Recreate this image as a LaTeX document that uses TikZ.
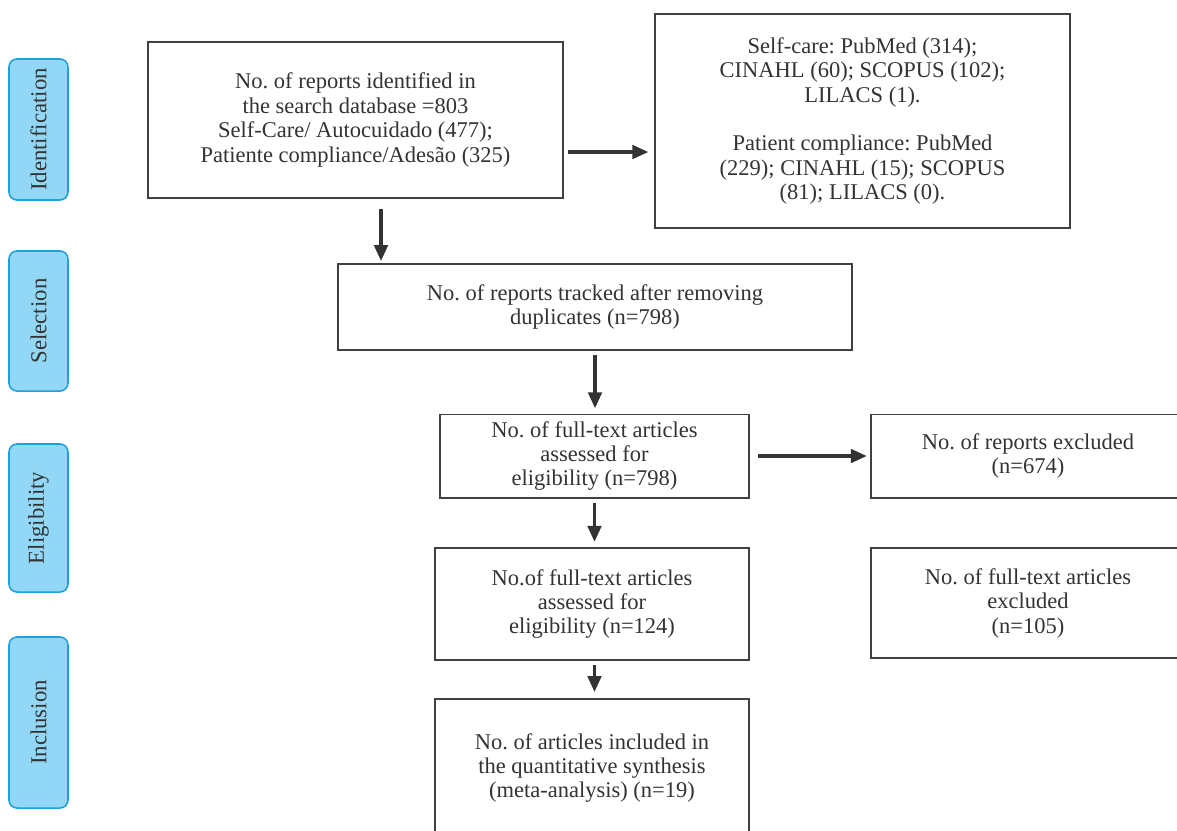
\documentclass[tikz,border=0pt]{standalone}
\usepackage{fontspec}
\setmainfont{Liberation Serif}
\usetikzlibrary{arrows.meta,calc}
\frenchspacing
\definecolor{txt}{HTML}{333333}
\definecolor{edge}{HTML}{404040}
\definecolor{tabfill}{HTML}{92D8F6}
\definecolor{tabedge}{HTML}{1FA0DC}
\tikzset{
  px/.style={x=0.025cm,y=-0.025cm},
  box/.style={draw=edge,line width=1.4pt,fill=white,text=txt,align=center,inner sep=0pt,
    font=\fontsize{16}{17.4}\selectfont},
  tab/.style={draw=tabedge,line width=1.1pt,fill=tabfill,rounded corners=0.2cm,text=txt,
    minimum width=1.475cm,inner sep=0pt,font=\fontsize{16.2}{17.6}\selectfont},
  arr/.style={draw=txt,line width=2.3pt,-{Triangle[length=0.4cm,width=0.34cm]}},
}
\begin{document}
\begin{tikzpicture}[px]
\useasboundingbox (0,0) rectangle (1177,830);
\clip (0,0) rectangle (1177,830);
% tabs
\node[tab,minimum height=3.525cm] (t1) at (38.5,129.5) {\rotatebox{90}{Identification}};
\node[tab,minimum height=3.5cm] (t2) at (38.5,321) {\rotatebox{90}{Selection}};
\node[tab,minimum height=3.7cm] (t3) at (38.5,518) {\rotatebox{90}{Eligibility}};
\node[tab,minimum height=4.275cm] (t4) at (38.5,722.5) {\rotatebox{90}{Inclusion}};
% boxes
\node[box,minimum width=10.375cm,minimum height=3.875cm] (b1) at (355.5,120)
  {No. of reports identified in\\the search database =803\\Self-Care/ Autocuidado (477);\\Patiente compliance/Adesão (325)};
\node[box,minimum width=10.375cm,minimum height=5.35cm] (b2) at (862.5,121)
  {Self-care: PubMed (314);\\CINAHL (60); SCOPUS (102);\\LILACS (1).\\[17.4pt]Patient compliance: PubMed\\(229); CINAHL (15); SCOPUS\\(81); LILACS (0).};
\node[box,minimum width=12.85cm,minimum height=2.15cm] (b3) at (595,307)
  {No. of reports tracked after removing\\duplicates (n=798)};
\node[box,minimum width=7.725cm,minimum height=2.075cm] (b4) at (594.5,456)
  {No. of full-text articles\\assessed for\\eligibility (n=798)};
\node[box,minimum width=7.85cm,minimum height=2.075cm] (b5) at (1028,456)
  {No. of reports excluded\\(n=674)};
\node[box,minimum width=7.85cm,minimum height=2.8cm] (b6) at (592,604)
  {No.of full-text articles\\assessed for\\eligibility (n=124)};
\node[box,minimum width=7.85cm,minimum height=2.75cm] (b7) at (1028,603)
  {No. of full-text articles\\excluded\\(n=105)};
\node[box,minimum width=7.85cm,minimum height=3.45cm] (b8) at (592,768)
  {No. of articles included in\\the quantitative synthesis\\(meta-analysis) (n=19)};
% arrows
\draw[arr,shorten <=3pt,shorten >=1.4mm] ([yshift=-0.8cm]b1.east) -- ([yshift=-0.8cm]b1.east -| b2.west);
\draw[arr,shorten <=2.5mm,shorten >=0.5mm] ([xshift=0.6375cm]b1.south) -- ([xshift=0.6375cm]b1.south |- b3.north);
\draw[arr,shorten <=1mm,shorten >=1.3mm] (b3.south) -- (b3.south |- b4.north);
\draw[arr,shorten <=2mm,shorten >=0.8mm] (b4.east) -- (b4.east -| b5.west);
\draw[arr,shorten <=1mm,shorten >=1.3mm] (b4.south) -- (b4.south |- b6.north);
\draw[arr,shorten <=1mm,shorten >=1.5mm] (b4.south |- b6.south) -- (b4.south |- b8.north);
\end{tikzpicture}
\end{document}
